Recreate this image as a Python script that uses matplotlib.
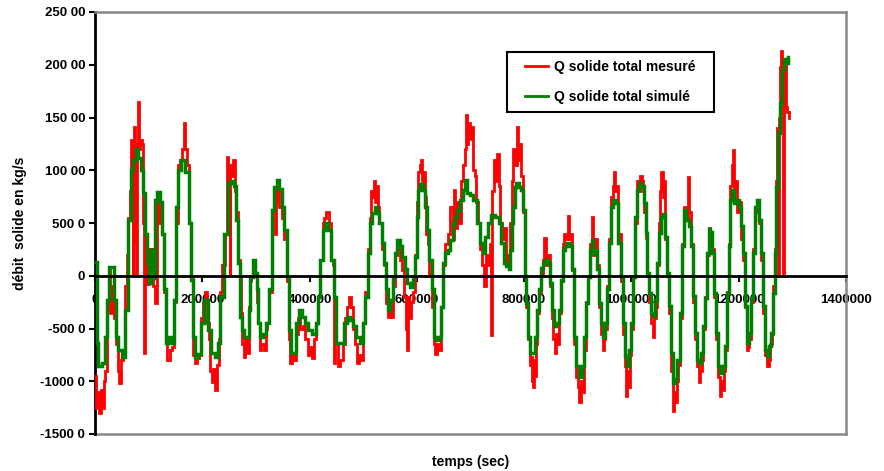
import matplotlib
matplotlib.use("Agg")
import matplotlib.pyplot as plt
from matplotlib.patches import Rectangle

plt.rcParams['font.family'] = ['Liberation Sans', 'DejaVu Sans']
plt.rcParams['font.weight'] = 'bold'

# ---------------- data (time in s, solid discharge in kg/s) ----------------
green_t1 = [0, 2400, 3500, 8700, 18000, 19900, 24200, 27300, 34800, 36600,
            41000, 45900, 55200, 58400, 63300, 69500, 73900, 78200, 83200, 88100,
            92500, 95600, 98700, 101800, 106800, 109300, 113000, 117900, 123500, 126600,
            129700, 134100, 139000, 145200, 148400, 152700, 157600, 163900, 173200, 177500,
            181200, 183700, 188700, 196100, 199800, 207300, 213500, 219700, 225900, 232100,
            235200, 244500, 250800, 257000]
green_q1 = [1300, 1300, -6400, -8600, -8300, -5800, -2300, 850, 850, -2300,
            -5800, -7000, -7700, -3200, 5300, 10000, 11000, 12000, 11200, 10000,
            7850, 4000, 1200, -700, 2450, -200, 7200, 7900, 7000, 4000,
            -1300, -6400, -5800, -6400, -2300, 6500, 10000, 11000, 9800, 5000,
            -400, -5800, -7700, -7400, -4500, -2300, -5100, -7300, -7700, -6400,
            -2000, 4000, 8800, 8950]

green_t2 = [262500, 265000, 268700, 273100, 276200, 279300, 285500, 287400, 291700, 296100,
            299800, 302900, 306000, 310400, 316500, 322800, 327200, 332100, 336500, 341400,
            345800, 350700, 354400, 360000, 363100, 366800, 372400, 378600, 383000, 387900,
            394200, 400300, 409600, 414000, 417700, 422100, 426400, 431400, 437600, 442600,
            446900, 451200, 462400, 467400, 471600, 478000, 482300, 490300, 496600, 500900,
            505900, 510800]
green_q2 = [8500, 5300, 1200, -3900, -5100, -5800, -5800, -3200, -100, 1500,
            300, -1300, -4500, -5800, -5500, -4500, -1300, 6250, 8450, 9100,
            8200, 6550, 4350, -100, -5100, -7300, -7300, -4500, -3200, -3900,
            -4500, -5100, -5500, -4500, -2000, 1500, 4350, 5000, 4350, 1500,
            -2000, -6400, -6400, -4500, -3900, -4200, -4800, -5800, -6400, -4500,
            -2000, 2150]

green_t3 = [513900, 518900, 523800, 528200, 532500, 536300, 540600, 545000, 548700, 553000,
            557300, 561000, 565500, 569800, 574800, 579700, 584100, 590300, 594600, 598300,
            600900, 604600, 608900, 613200, 616900, 621400, 625600, 629400, 633100, 638100,
            643000, 646100, 650400, 655400, 660500, 664700, 669000, 672700, 677200, 683300,
            687600, 691300, 695800, 702000, 708100, 714500, 720600, 724900, 729900, 734900,
            741100, 749800, 754700, 759700, 764000]
green_q3 = [5000, 5950, 6550, 5950, 5000, 3100, 1200, -1300, -3200, -2300,
            -100, 2150, 3400, 2800, 1800, 600, -700, -1100, -100, 1800,
            5600, 8150, 8650, 8150, 6550, 4350, 1500, -1300, -5800, -6100,
            -5800, -2950, 1200, 2150, 2450, 3400, 5000, 5600, 6250, 7200,
            8150, 9100, 7800, 7650, 7200, 5000, 3100, 2150, 3700, 5000,
            5800, 5600, 5000, 3100, 1200]

green_t4 = [769000, 772700, 775200, 778900, 781400, 783900, 787600, 791400, 795600, 800100,
            802500, 806200, 810000, 813700, 818700, 822400, 826100, 829900, 833600, 837300,
            842200, 845900, 849700, 853400, 857800, 862100, 867100, 870800, 873300, 878300,
            883200, 888200, 891900, 895100, 899300, 905500, 910500, 914300, 918000, 921700,
            924200, 927900, 930500, 934200, 938500, 941600, 945400, 949100, 952800, 956500,
            960300, 964000, 968900, 972600, 977600, 981800, 986300, 990000, 994300, 997500,
            1001200, 1004900, 1008700, 1012400, 1016100, 1020900]
green_q4 = [900, 600, 2450, 5000, 6550, 8450, 8800, 8450, 8150, 6250,
            0, -2600, -5800, -7300, -7300, -5800, -3200, -1300, 700, 1200,
            1500, 1200, -700, -3200, -4800, -4500, -3200, -400, 2450, 2800,
            3100, 2800, 600, -5800, -8600, -9550, -8600, -5800, -2600, -100,
            2450, 3400, 2150, 2450, 600, -2600, -4500, -5800, -4500, -1300,
            3100, 6550, 7200, 6900, 3100, -100, -4500, -7650, -8600, -7000,
            -4500, -100, 5600, 8150, 8800, 8500]

green_t5 = [1025300, 1027800, 1031500, 1035300, 1038400, 1042700, 1046400, 1048900, 1052600, 1056300,
            1060000, 1063700, 1067500, 1071200, 1075700, 1078700, 1083700, 1088000, 1092400, 1096100,
            1099900, 1104800, 1108500, 1113000, 1115900, 1119700, 1123400, 1128400, 1132100, 1135800,
            1139500, 1143300, 1145700, 1148300, 1152000, 1154400, 1159500, 1163200, 1168000, 1173100,
            1176800, 1180500, 1182900, 1185500, 1189200, 1193000, 1197800, 1201600, 1205300, 1209000,
            1212700, 1216500, 1220200, 1223900, 1227600, 1231400, 1235100, 1238800, 1242500, 1246200,
            1250000, 1254900, 1258700, 1262400, 1264900, 1268600, 1271200, 1274900, 1278600, 1282400,
            1286600, 1289700, 1292700]
green_q5 = [6900, 4050, 250, -1650, -3550, -3800, -2300, 1200, 4050, 5600,
            5900, 3700, 250, -2900, -7300, -10150, -9800, -7950, -3550, 2800,
            6250, 5300, 4700, 2800, -1950, -5450, -7950, -8300, -7300, -4800,
            -2150, 2150, 4400, 4100, 2150, -1650, -5450, -8600, -9250, -8600,
            -6700, -1650, 2800, 7200, 8150, 6900, 7200, 6550, 4700, 2150,
            -2900, -6400, -5450, -2150, 2150, 6550, 7200, 5300, 2150, -2900,
            -7000, -7600, -6700, -5450, -1650, 2150, 8450, 13500, 16350, 19500,
            20500, 20200, 20700]

red_t1 = [0, 3000, 6000, 9000, 12000, 15000, 18000, 21000, 24200, 27300,
          30000, 33000, 36600, 41000, 44000, 47000, 50000, 55200, 58400, 61000,
          63300, 66000, 68500, 70000, 71000, 72500, 74500, 76000, 77500, 79000,
          81500, 83500, 86000, 89000, 91000, 92500, 94000, 96500, 99000, 102000,
          104500, 107000, 110000, 113600, 116000, 118500, 121000, 124000, 127000, 130000,
          133000, 137000, 141000, 145200, 148400, 152700, 156000, 160000, 164000, 167000,
          170000, 173200, 177500, 181000, 184000, 188700, 193000, 196100, 199800, 203000,
          207300, 210000, 213500, 216000, 219700, 222000, 225900, 229000, 232100, 235200,
          239000, 244500, 247000, 250000, 251500, 253000, 257000]
red_q1 = [-9500, -12500, -11000, -13000, -10800, -12500, -10000, -9000, -3000, 500,
          -3500, -1000, -4000, -6500, -9000, -10200, -8000, -7500, -1000, 2000,
          5500, 8000, 12900, 10500, 0, 11000, 14100, 3000, 0, 12500,
          16500, 12000, 12900, 12500, 5000, -7300, 4000, 2500, -800, 2500,
          0, 2500, -1000, -2600, 6800, 7000, 5000, 6500, 4000, -1500,
          -6000, -8000, -7000, -6800, -2500, 5000, 10500, 11000, 12000, 14500,
          12000, 10500, 5000, 0, -7500, -8300, -7800, -7500, -4000, -2500,
          -1500, -4500, -6000, -9000, -10100, -8800, -10800, -8500, -6000, -1500,
          1000, 4000, 11300, 8000, 0, 10500, 9500]

red_t2 = [259000, 262500, 265000, 268700, 271000, 273100, 276200, 278000, 281000, 285500,
          287400, 290000, 293000, 296100, 299800, 302900, 306000, 308000, 312000, 316500,
          320000, 322800, 327200, 332100, 334000, 336500, 339000, 341400, 345800, 350700,
          354400, 360000, 363100, 365000, 369000, 372400, 376000, 380000, 385000, 390000,
          394200, 399000, 403000, 407000, 411000, 414000, 417700, 422100, 426400, 429000,
          433000, 437600, 442600, 445000, 446900, 449000, 451200, 455000, 460000, 464000,
          467400, 471600, 475000, 478000, 482300, 487000, 490300, 494000, 498000, 500900,
          505900, 510800]
red_q2 = [11000, 8000, 6000, 1500, 0, -3500, -6500, -7700, -6000, -7300,
          -3000, -500, 0, 1500, 0, -2500, -4500, -7000, -6500, -7000,
          -5000, -4500, -1500, 6000, 8000, 4000, 7000, 9000, 6500, 5500,
          3500, -500, -6000, -8300, -7500, -8000, -5500, -4000, -5000, -4800,
          -6000, -7500, -6800, -7800, -6000, -4500, -2000, 1500, 5000, 5500,
          6000, 5000, 1500, 1000, -8300, -2000, -6400, -8600, -8000, -6500,
          -4000, -3000, -2000, -3000, -5000, -6500, -8300, -7500, -8000, -4500,
          -1500, 2500]

red_t3 = [513900, 516000, 518900, 521000, 523800, 526000, 528200, 532500, 536300, 540600,
          545000, 548700, 551000, 553000, 557300, 561000, 565500, 569800, 574800, 578000,
          580000, 582000, 584100, 587000, 590300, 594600, 598300, 600900, 604600, 607000,
          609500, 611000, 613200, 616900, 619000, 621400, 625600, 629400, 633100, 636000,
          640000, 643000, 646100, 650400, 655000, 660000, 665000, 668000, 670000, 673000,
          676000, 680000, 684000, 688000, 691000, 693000, 695000, 697500, 700000, 703000,
          706000, 709000, 712000, 716000, 720000, 724000, 728000, 731000, 734000, 737000,
          738600, 740000, 742000, 745000, 748000, 751000, 754000, 757000, 760000, 764000,
          768000, 772000, 775000, 778000, 781000, 784000, 787600, 790000, 793000, 796000,
          800100, 802500]
red_q3 = [5500, 8000, 7500, 9000, 7000, 8500, 6500, 5000, 2500, 1000,
          -2600, -3900, -2500, -3900, -1000, 2000, 2500, 1500, 500, -2000,
          -5000, -7000, -2000, -4000, -2500, -1500, 2000, 7000, 9800, 10500,
          11000, 9000, 9800, 7500, 4000, 3000, 0, -3000, -6500, -7400,
          -6500, -7000, -3000, 1000, 3000, 4000, 6500, 3500, 8100, 4500,
          7000, 5000, 9000, 10500, 12000, 15200, 12500, 14500, 13000, 14100,
          10000, 9500, 7000, 5000, 2500, 1000, -1000, 2000, 1000, 3000,
          -5600, 2000, 8000, 11000, 9000, 11500, 8500, 5000, 3500, 4500,
          1000, 2000, 5000, 9000, 12000, 10500, 14100, 11000, 12500, 9500,
          6000, 0]

red_t4 = [806200, 809000, 811200, 813500, 815500, 817400, 819500, 821500, 823600, 826100,
          829900, 833600, 836000, 839200, 842200, 845900, 849700, 853400, 856000, 857800,
          860000, 862100, 867100, 870800, 873300, 877000, 880000, 882600, 885000, 888200,
          891900, 895100, 898000, 901000, 904400, 907000, 910500, 914300, 918000, 921700,
          924200, 927900, 930500, 934200, 938500, 941600, 945400, 947800, 950000, 952800,
          956500, 960300, 964000, 966000, 968200, 971000, 974000, 977600, 981800, 986300,
          989000, 991200, 994000, 996200, 999000, 1001200, 1004900, 1008700, 1011000, 1014000,
          1017000, 1020900]
red_q4 = [-3000, -6000, -8500, -7700, -10000, -10500, -8000, -9500, -6500, -3500,
          -1500, 0, 1500, 3600, 1000, 2000, -1000, -4000, -6000, -7300,
          -5500, -6500, -3500, -500, 3000, 4000, 3500, 5700, 3500, 4000,
          500, -6500, -9600, -10500, -11950, -10000, -11000, -7000, -2500, 0,
          3000, 5600, 2000, 3500, 1000, -3000, -5500, -7000, -6000, -5000,
          -1000, 3500, 7500, 8500, 9800, 8000, 8500, 4000, -500, -5500,
          -8600, -11400, -9000, -10500, -7500, -5000, 0, 5000, 9000, 8000,
          9500, 9000]

red_t5 = [1023000, 1025300, 1027200, 1031500, 1035300, 1038400, 1041500, 1044000, 1046400, 1048900,
          1052600, 1055000, 1057000, 1059000, 1061000, 1063700, 1067500, 1071200, 1075700, 1078700,
          1081000, 1083700, 1086000, 1088000, 1092400, 1096100, 1099900, 1103000, 1106700, 1109000,
          1113000, 1115900, 1119700, 1123400, 1127100, 1130000, 1132100, 1135800, 1139500, 1143300,
          1145700, 1148300, 1152000, 1154400, 1159500, 1163200, 1165600, 1168000, 1171000, 1173100,
          1176800, 1180500, 1182900, 1185500, 1188000, 1190400, 1193000, 1196000, 1198000, 1201600,
          1205300, 1209000, 1212700, 1216500, 1218300, 1220200, 1223900, 1227600, 1231400, 1235100,
          1238800, 1242500, 1246200, 1250000, 1254900, 1257500, 1260000, 1262400, 1264900, 1268600,
          1271200, 1272300, 1274900, 1276500, 1278600, 1280500, 1282000, 1283500, 1285000, 1287900,
          1289700, 1292000, 1294600]
red_q5 = [8000, 6000, 3600, 0, -2500, -4500, -5800, -4000, -3000, 1000,
          5000, 8000, 9800, 7500, 9000, 3500, 0, -3500, -9000, -12800,
          -11000, -12000, -10000, -8500, -4000, 3000, 6500, 5500, 9400, 6000,
          3000, -2500, -6000, -8600, -10100, -9000, -8000, -5000, -2000, 2000,
          4500, 3000, 2500, -2000, -6000, -9600, -11400, -10000, -10800, -9000,
          -7000, -1500, 3000, 8500, 10500, 11900, 8000, 9000, 6000, 7000,
          3500, 1500, -3000, -7000, -6800, -6000, -2500, 2500, 6000, 6500,
          5000, 1500, -3500, -7500, -8600, -8000, -6500, -5500, -1000, 2500,
          9000, 14000, 0, 15000, 19800, 21300, 20000, 0, 19000, 20500,
          16000, 15500, 15000]

green_t = green_t1 + green_t2 + green_t3 + green_t4 + green_t5
green_q = green_q1 + green_q2 + green_q3 + green_q4 + green_q5
red_t = red_t1 + red_t2 + red_t3 + red_t4 + red_t5
red_q = red_q1 + red_q2 + red_q3 + red_q4 + red_q5
assert len(green_t) == len(green_q), (len(green_t), len(green_q))
assert len(red_t) == len(red_q), (len(red_t), len(red_q))

y_ticks = [-15000, -10000, -5000, 0, 5000, 10000, 15000, 20000, 25000]
y_tick_labels = ["-1500 0", "-1000 0", "-500 0", "0", "500 0", "100 00", "150 00", "200 00", "250 00"]
x_ticks = [0, 200000, 400000, 600000, 800000, 1000000, 1200000, 1400000]
x_tick_labels = ["0", "200000", "400000", "600000", "800000", "1000000", "1200000", "1400000"]
label_measured = "Q solide total mesuré"
label_simulated = "Q solide total simulé"

# ---------------- figure ----------------
W, H = 884, 471
fig = plt.figure(figsize=(W / 100, H / 100), dpi=100)
L, R, T, B = 95, 846, 12, 434
ax = fig.add_axes([L / W, (H - B) / H, (R - L) / W, (B - T) / H])

ax.plot(red_t, red_q, color='#ff0000', lw=2.0, label=label_measured, zorder=3,
        drawstyle='steps-mid', solid_joinstyle='miter')
ax.plot(green_t, green_q, color='#008000', lw=2.5, label=label_simulated, zorder=4,
        drawstyle='steps-mid', solid_joinstyle='miter')

ax.set_xlim(0, 1400000)
ax.set_ylim(-15000, 25000)

ax.set_yticks(y_ticks)
ax.set_yticklabels(y_tick_labels)
ax.set_xticks(x_ticks)
ax.set_xticklabels(x_tick_labels)

ax.spines['bottom'].set_position(('data', 0))
ax.spines['bottom'].set_color('black')
ax.spines['bottom'].set_linewidth(2.0)
ax.spines['bottom'].set_zorder(5)
ax.spines['left'].set_color('black')
ax.spines['left'].set_linewidth(2.0)
for s in ('top', 'right'):
    ax.spines[s].set_color('#888888')
    ax.spines[s].set_linewidth(1.8)
# gray lower frame line
ax.plot([0, 1], [0, 0], transform=ax.transAxes, color='#888888', lw=1.8,
        clip_on=False, zorder=2)

ax.tick_params(axis='y', direction='out', length=4, width=1.5, pad=3,
               labelsize=9.5, colors='black')
ax.tick_params(axis='x', direction='out', length=4, width=1.5, pad=9,
               labelsize=9.5, colors='black')
for lab in ax.get_xticklabels() + ax.get_yticklabels():
    lab.set_fontweight('bold')

ax.set_ylabel("débit  solide en kg/s", fontsize=10, fontweight='bold')
ax.yaxis.set_label_coords(-0.09, 0.5)
ax.set_xlabel("temps (sec)", fontsize=10, fontweight='bold')
ax.xaxis.set_label_coords(0.5, -0.05)

leg = ax.legend(loc='upper left', bbox_to_anchor=((525 - L) / (R - L), (B - 60) / (B - T)),
                frameon=False, borderpad=0.0, borderaxespad=0.0,
                handlelength=1.65, handletextpad=0.45, labelspacing=1.15,
                prop={'size': 10, 'weight': 'bold'})
for line in leg.get_lines():
    line.set_linewidth(2.0)

# frame around the legend with wider horizontal than vertical padding
fig.canvas.draw()
bb = leg.get_window_extent()
padx, pady = 18, 8
rect = Rectangle(((bb.x0 - padx) / W, (bb.y0 - pady) / H),
                 (bb.width + 2 * padx) / W, (bb.height + 2 * pady) / H,
                 transform=fig.transFigure, facecolor='white', edgecolor='black',
                 lw=1.5, zorder=1)
fig.add_artist(rect)
leg.remove()
fig.legends.append(leg)
leg.set_figure(fig)
leg.set_zorder(10)

fig.savefig("out.png", dpi=100)
